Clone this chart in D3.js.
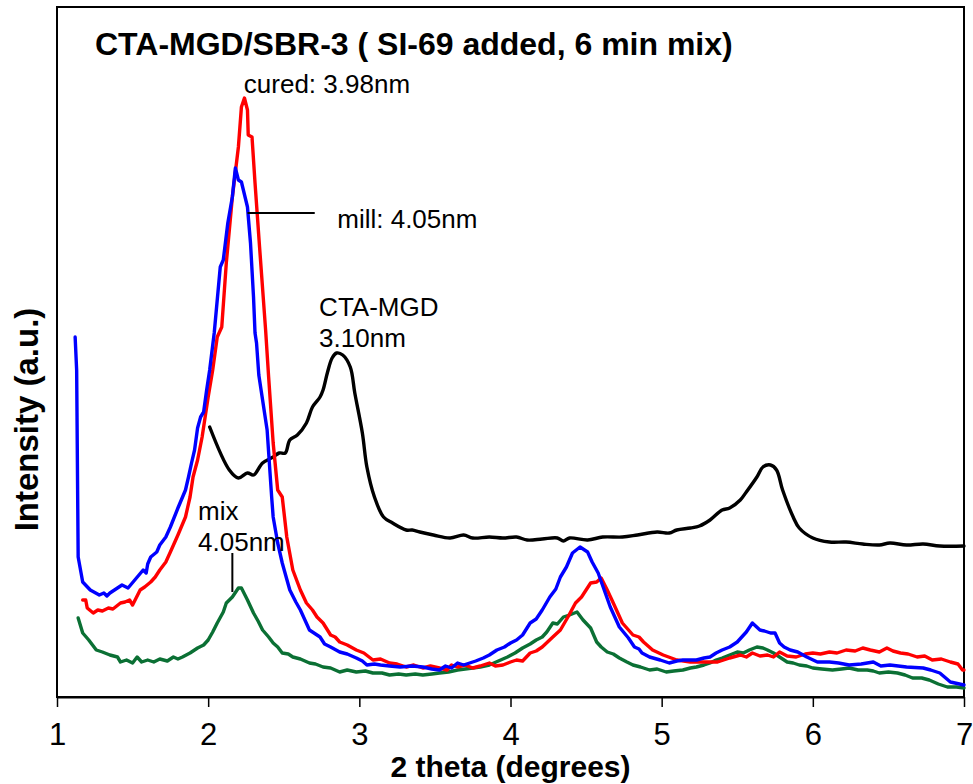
<!DOCTYPE html>
<html>
<head>
<meta charset="utf-8">
<script src="https://cdn.jsdelivr.net/npm/d3@7/dist/d3.min.js"></script>
<style>
  html, body { margin: 0; padding: 0; background: #fff; }
  svg { display: block; font-family: "Liberation Sans", Arial, Helvetica, sans-serif; }
</style>
</head>
<body>
<svg id="chart" width="973" height="784"></svg>
<script>
// XRD patterns: 2 theta (degrees) vs intensity (a.u.)
const xTicks = [1, 2, 3, 4, 5, 6, 7];

// mill sample (blue)
const millData = [
  [1.12, 360], [1.13, 327], [1.14, 140], [1.17, 115], [1.22, 107], [1.28, 102], [1.31, 104],
  [1.33, 101], [1.35, 104], [1.39, 108], [1.43, 112], [1.47, 109], [1.52, 118], [1.57, 127],
  [1.59, 124], [1.60, 133], [1.62, 140], [1.66, 145], [1.68, 152], [1.72, 160], [1.75, 170],
  [1.80, 189], [1.85, 207], [1.87, 220], [1.89, 234], [1.91, 247], [1.93, 269], [1.95, 280],
  [1.97, 285], [1.99, 307], [2.01, 327], [2.04, 364], [2.08, 430], [2.10, 437], [2.13, 474],
  [2.16, 500], [2.18, 529], [2.20, 517], [2.22, 515], [2.26, 490], [2.28, 454], [2.30, 400],
  [2.31, 364], [2.32, 354], [2.335, 322], [2.39, 267], [2.42, 200], [2.43, 180], [2.46, 154],
  [2.49, 134], [2.54, 107], [2.58, 95], [2.61, 87], [2.64, 77], [2.67, 67], [2.70, 64],
  [2.74, 60], [2.77, 53], [2.81, 50], [2.87, 45], [2.92, 43], [2.98, 39], [3.02, 36],
  [3.05, 32], [3.10, 33], [3.14, 32], [3.20, 31], [3.27, 30], [3.35, 31], [3.42, 30],
  [3.48, 28], [3.53, 27], [3.57, 31], [3.61, 29], [3.65, 34], [3.69, 32], [3.73, 34],
  [3.77, 36], [3.82, 39], [3.86, 42], [3.91, 47], [3.96, 50], [4.00, 54], [4.04, 57],
  [4.08, 62], [4.13, 74], [4.17, 78], [4.21, 87], [4.26, 100], [4.30, 108], [4.33, 120],
  [4.37, 130], [4.41, 144], [4.46, 150], [4.51, 145], [4.54, 135], [4.58, 124], [4.62, 107],
  [4.66, 90], [4.72, 70], [4.78, 59], [4.82, 50], [4.85, 48], [4.87, 44], [4.92, 40],
  [4.99, 37], [5.05, 34], [5.10, 36], [5.14, 37], [5.23, 37], [5.28, 39], [5.32, 40],
  [5.36, 44], [5.40, 47], [5.45, 50], [5.50, 55], [5.56, 65], [5.60, 74], [5.65, 67],
  [5.68, 66], [5.72, 64], [5.75, 64], [5.78, 54], [5.81, 50], [5.85, 47], [5.90, 45],
  [5.96, 40], [6.03, 35], [6.11, 35], [6.17, 34], [6.24, 32], [6.32, 33], [6.40, 35],
  [6.45, 31], [6.51, 32], [6.62, 30], [6.73, 29], [6.78, 27], [6.84, 24], [6.91, 15], [7.00, 12]
];

// cured sample (red)
const curedData = [
  [1.17, 97], [1.19, 97], [1.20, 89], [1.24, 84], [1.27, 87], [1.30, 86], [1.34, 89],
  [1.37, 88], [1.42, 94], [1.45, 95], [1.48, 97], [1.50, 92], [1.55, 107], [1.58, 110],
  [1.62, 115], [1.65, 120], [1.68, 127], [1.72, 135], [1.75, 145], [1.80, 162], [1.85, 180],
  [1.88, 200], [1.90, 220], [1.93, 237], [1.96, 260], [1.98, 280], [2.00, 300], [2.03, 327],
  [2.06, 360], [2.09, 370], [2.12, 434], [2.16, 500], [2.20, 550], [2.22, 590], [2.24, 599],
  [2.26, 587], [2.265, 562], [2.29, 560], [2.31, 514], [2.34, 450], [2.38, 367], [2.40, 320],
  [2.43, 254], [2.46, 207], [2.49, 200], [2.52, 160], [2.56, 127], [2.61, 107], [2.65, 94],
  [2.69, 87], [2.72, 80], [2.76, 74], [2.81, 62], [2.84, 60], [2.87, 55], [2.92, 52],
  [2.98, 47], [3.03, 44], [3.09, 37], [3.14, 38], [3.20, 34], [3.25, 33], [3.31, 30],
  [3.36, 32], [3.42, 29], [3.47, 31], [3.53, 29], [3.58, 27], [3.61, 32], [3.65, 30],
  [3.70, 32], [3.75, 29], [3.80, 31], [3.86, 34], [3.90, 31], [3.95, 32], [4.00, 35],
  [4.04, 37], [4.08, 36], [4.13, 44], [4.17, 46], [4.21, 50], [4.28, 60], [4.33, 67],
  [4.38, 80], [4.43, 94], [4.47, 100], [4.53, 114], [4.57, 115], [4.60, 119], [4.64, 107],
  [4.68, 94], [4.74, 74], [4.81, 62], [4.85, 60], [4.88, 55], [4.94, 47], [5.01, 42],
  [5.10, 37], [5.19, 35], [5.27, 35], [5.37, 35], [5.45, 39], [5.52, 42], [5.56, 40],
  [5.60, 44], [5.65, 41], [5.70, 42], [5.74, 40], [5.78, 45], [5.83, 41], [5.89, 40],
  [5.95, 43], [6.00, 44], [6.05, 43], [6.11, 45], [6.16, 44], [6.22, 47], [6.28, 46],
  [6.33, 49], [6.38, 47], [6.44, 45], [6.49, 49], [6.53, 46], [6.58, 44], [6.63, 43],
  [6.69, 40], [6.74, 41], [6.79, 37], [6.85, 38], [6.91, 35], [6.96, 33], [6.99, 27], [7.00, 27]
];

// mix sample (green)
const mixData = [
  [1.14, 79], [1.17, 64], [1.21, 57], [1.26, 47], [1.30, 45], [1.35, 42], [1.40, 40],
  [1.42, 35], [1.46, 37], [1.50, 34], [1.53, 40], [1.56, 35], [1.60, 37], [1.64, 35],
  [1.68, 38], [1.73, 36], [1.77, 40], [1.80, 38], [1.83, 40], [1.88, 44], [1.93, 49],
  [1.97, 52], [2.00, 57], [2.03, 65], [2.06, 74], [2.10, 85], [2.12, 94], [2.16, 100],
  [2.20, 109], [2.22, 109], [2.26, 97], [2.30, 84], [2.33, 76], [2.36, 67], [2.40, 60],
  [2.43, 54], [2.46, 50], [2.49, 44], [2.53, 43], [2.56, 40], [2.61, 38], [2.67, 34],
  [2.71, 33], [2.76, 30], [2.81, 29], [2.87, 25], [2.92, 27], [2.98, 25], [3.04, 26],
  [3.09, 24], [3.15, 24], [3.20, 22], [3.26, 23], [3.31, 22], [3.37, 23], [3.42, 22],
  [3.48, 23], [3.53, 24], [3.59, 25], [3.65, 27], [3.70, 28], [3.75, 29], [3.80, 30],
  [3.86, 32], [3.92, 36], [3.98, 40], [4.03, 44], [4.08, 49], [4.13, 53], [4.17, 57],
  [4.21, 60], [4.24, 65], [4.28, 74], [4.31, 73], [4.35, 80], [4.39, 82], [4.44, 85],
  [4.48, 77], [4.53, 69], [4.57, 55], [4.60, 50], [4.64, 45], [4.68, 43], [4.72, 39],
  [4.77, 35], [4.81, 32], [4.86, 30], [4.92, 27], [4.97, 28], [5.03, 25], [5.08, 26],
  [5.14, 27], [5.19, 29], [5.23, 30], [5.28, 32], [5.32, 34], [5.36, 37], [5.40, 39],
  [5.45, 42], [5.50, 45], [5.54, 44], [5.58, 47], [5.63, 50], [5.67, 49], [5.70, 47],
  [5.74, 44], [5.78, 40], [5.83, 35], [5.87, 34], [5.91, 32], [5.96, 31], [6.00, 29],
  [6.06, 28], [6.13, 27], [6.19, 28], [6.24, 29], [6.30, 27], [6.36, 27], [6.40, 26],
  [6.44, 24], [6.50, 25], [6.56, 24], [6.61, 22], [6.66, 19], [6.72, 19], [6.77, 17],
  [6.83, 13], [6.89, 10], [6.95, 10], [7.00, 9]
];

// CTA-MGD reference pattern (black)
const ctaData = [
  [2.01, 270], [2.14, 227], [2.20, 219], [2.26, 224], [2.30, 222], [2.36, 234], [2.43, 240],
  [2.47, 244], [2.51, 244], [2.54, 257], [2.59, 262], [2.65, 274], [2.69, 290], [2.74, 300],
  [2.76, 307], [2.79, 325], [2.82, 339], [2.85, 344], [2.89, 342], [2.94, 330], [2.97, 304],
  [3.02, 264], [3.05, 230], [3.10, 200], [3.16, 180], [3.22, 174], [3.31, 167], [3.35, 167],
  [3.40, 165], [3.49, 162], [3.60, 159], [3.69, 162], [3.75, 159], [3.86, 160], [3.95, 159],
  [4.04, 160], [4.11, 157], [4.21, 158], [4.31, 159], [4.35, 156], [4.39, 159], [4.51, 157],
  [4.61, 160], [4.74, 160], [4.84, 162], [4.97, 165], [5.05, 164], [5.10, 167], [5.19, 169],
  [5.25, 171], [5.32, 177], [5.40, 187], [5.45, 189], [5.52, 197], [5.56, 205], [5.63, 220],
  [5.67, 230], [5.72, 232], [5.76, 227], [5.80, 207], [5.87, 180], [5.91, 169], [6.00, 159],
  [6.11, 155], [6.22, 155], [6.33, 153], [6.44, 152], [6.51, 154], [6.62, 152], [6.73, 153],
  [6.84, 151], [7.00, 151]
];

const titleText = "CTA-MGD/SBR-3 ( SI-69 added, 6 min mix)";
const xTitle = "2 theta (degrees)";
const yTitle = "Intensity (a.u.)";

// peak labels: text lines, anchor point in data units
const peakLabels = [
  { lines: ["cured: 3.98nm"], x: 2.236, y: 604 },
  { lines: ["mill: 4.05nm"], x: 2.854, y: 469 },
  { lines: ["CTA-MGD", "3.10nm"], x: 2.734, y: 381 },
  { lines: ["mix", "4.05nm"], x: 1.933, y: 177 }
];
// leader lines in data units
const leaders = [
  { x1: 2.26, y1: 484, x2: 2.705, y2: 484 },
  { x1: 2.16, y1: 144, x2: 2.16, y2: 105 }
];

const W = 973, H = 784;
const margin = { top: 7, right: 9, bottom: 87, left: 57 };
const iw = W - margin.left - margin.right;
const ih = H - margin.top - margin.bottom;

const svg = d3.select("#chart");
const g = svg.append("g").attr("transform", `translate(${margin.left},${margin.top})`);

const x = d3.scaleLinear().domain([1, 7]).range([0, iw]);
const y = d3.scaleLinear().domain([0, 690]).range([ih, 0]);

// frame
g.append("rect")
  .attr("x", 0).attr("y", 0).attr("width", iw).attr("height", ih)
  .attr("fill", "none").attr("stroke", "#000").attr("stroke-width", 2);

// x axis
const xAxis = g.append("g")
  .attr("transform", `translate(0,${ih})`)
  .call(d3.axisBottom(x).tickValues(xTicks).tickFormat(d3.format("d")).tickSize(10).tickSizeOuter(0));
xAxis.select(".domain").attr("stroke-width", 2);
xAxis.selectAll(".tick line").attr("stroke-width", 1.5);
xAxis.selectAll(".tick text")
  .attr("font-size", 31).attr("fill", "#000")
  .attr("font-family", "'Liberation Sans', Arial, sans-serif")
  .attr("dy", null).attr("y", 48);

const line = d3.line().x(d => x(d[0])).y(d => y(d[1]));
const smooth = d3.line().x(d => x(d[0])).y(d => y(d[1])).curve(d3.curveCatmullRom.alpha(0.5));

const series = [
  { data: ctaData, color: "#000000", gen: smooth },
  { data: mixData, color: "#0b7034", gen: line },
  { data: curedData, color: "#ff0000", gen: line },
  { data: millData, color: "#0000ff", gen: line }
];
series.forEach(s => {
  g.append("path")
    .datum(s.data)
    .attr("d", s.gen)
    .attr("fill", "none")
    .attr("stroke", s.color)
    .attr("stroke-width", 3.4)
    .attr("stroke-linejoin", "round")
    .attr("stroke-linecap", "round");
});

// leaders
g.selectAll(".leader").data(leaders).join("line")
  .attr("class", "leader")
  .attr("x1", d => x(d.x1)).attr("y1", d => y(d.y1))
  .attr("x2", d => x(d.x2)).attr("y2", d => y(d.y2))
  .attr("stroke", "#000").attr("stroke-width", 2);

// peak labels
peakLabels.forEach(p => {
  const t = g.append("text")
    .attr("x", x(p.x)).attr("y", y(p.y))
    .attr("font-size", 26).attr("fill", "#000");
  p.lines.forEach((ln, i) => {
    t.append("tspan").attr("x", x(p.x)).attr("dy", i === 0 ? 0 : 31).text(ln);
  });
});

// title
svg.append("text")
  .attr("x", 95).attr("y", 55)
  .attr("font-size", 32).attr("font-weight", "bold")
  .text(titleText);

// axis titles
svg.append("text")
  .attr("x", margin.left + iw / 2).attr("y", 777)
  .attr("text-anchor", "middle")
  .attr("font-size", 30).attr("font-weight", "bold")
  .text(xTitle);

svg.append("text")
  .attr("transform", `translate(38,${(302 + 537) / 2}) rotate(-90)`)
  .attr("text-anchor", "middle")
  .attr("font-size", 33).attr("font-weight", "bold")
  .text(yTitle);
</script>
</body>
</html>
